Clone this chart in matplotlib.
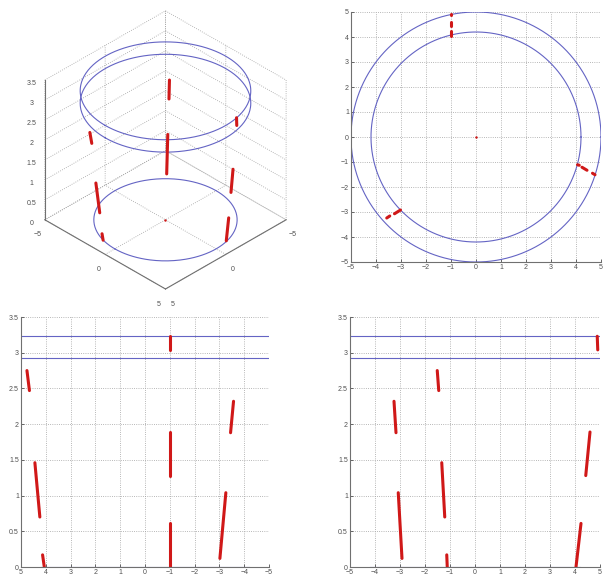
import numpy as np
import matplotlib
matplotlib.use("Agg")
import matplotlib.pyplot as plt

plt.rcParams["font.family"] = ["Liberation Sans", "DejaVu Sans"]
plt.rcParams["font.size"] = 5
plt.rcParams["grid.linestyle"] = ":"
plt.rcParams["grid.color"] = "#a0a0a0"
plt.rcParams["grid.linewidth"] = 0.6

# rings: two big ones up top, smaller one on the floor
outer_r = 5.0
outer_z = [3.23, 2.92]
inner_r = 4.2
inner_z = 0.0

# red sticks, start/end points
stick_x0 = [-1.0, 4.76, -3.57, -1.0, 4.44, -3.26, 4.13, -1.0]
stick_x1 = [-1.0, 4.66, -3.45, -1.0, 4.24, -3.02, 4.06, -1.0]
stick_y0 = [4.89, -1.51, -3.24, 4.60, -1.33, -3.07, -1.13, 4.24]
stick_y1 = [4.91, -1.45, -3.16, 4.43, -1.21, -2.92, -1.11, 4.04]
stick_z0 = [3.23, 2.75, 2.32, 1.89, 1.46, 1.04, 0.17, 0.61]
stick_z1 = [3.04, 2.47, 1.88, 1.28, 0.70, 0.12, 0.00, 0.00]

z_ticks = [0, 0.5, 1, 1.5, 2, 2.5, 3, 3.5]
z_labels = ["0", "0.5", "1", "1.5", "2", "2.5", "3", "3.5"]

blue = "#6464c4"
red = "#d01818"
axcol = "#707070"
lw_red = 2.2
lw_blue = 0.8

t = np.linspace(0, 2 * np.pi, 300)

fig = plt.figure(figsize=(6.03, 5.76), dpi=100)

# ---- 3D view ----
ax3 = fig.add_axes([0.019, 0.484, 0.498, 0.498], projection="3d")
ax3.set_proj_type("ortho")
for z in outer_z:
    ax3.plot(outer_r * np.cos(t), outer_r * np.sin(t), z, color=blue, lw=lw_blue)
ax3.plot(inner_r * np.cos(t), inner_r * np.sin(t), inner_z, color=blue, lw=lw_blue)
for i in range(len(stick_x0)):
    ax3.plot([stick_x0[i], stick_x1[i]], [stick_y0[i], stick_y1[i]],
             [stick_z0[i], stick_z1[i]], color=red, lw=lw_red, solid_capstyle="round")
ax3.plot([0], [0], [0], ".", color=red, ms=1.5)
ax3.set_xlim(-5, 5)
ax3.set_ylim(-5, 5)
ax3.set_zlim(0, 3.5)
ax3.set_xticks([-5, 0, 5])
ax3.set_yticks([-5, 0, 5])
ax3.set_zticks(z_ticks)
ax3.set_zticklabels(z_labels)
ax3.set_box_aspect((1, 1, 1))
ax3.view_init(elev=35, azim=45)
for a in (ax3.xaxis, ax3.yaxis, ax3.zaxis):
    a.set_pane_color((1, 1, 1, 0))
    a.line.set_color(axcol)
    a.line.set_linewidth(0.8)
    a._axinfo["grid"]["linestyle"] = ":"
    a._axinfo["grid"]["color"] = "#a0a0a0"
    a._axinfo["grid"]["linewidth"] = 0.6
    a._axinfo["tick"]["inward_factor"] = 0.0
    a._axinfo["tick"]["outward_factor"] = 0.0
ax3.tick_params(colors="#505050", labelsize=5, pad=-2)


def style2d(ax):
    ax.grid(True)
    for s in ("top", "right"):
        ax.spines[s].set_visible(False)
    for s in ("left", "bottom"):
        ax.spines[s].set_color(axcol)
        ax.spines[s].set_linewidth(0.8)
    ax.tick_params(colors="#505050", labelsize=5, length=2, width=0.6,
                   pad=1.5, direction="in")


# ---- top view ----
ax_t = fig.add_axes([351 / 603, 1 - 262 / 576, 250 / 603, 250 / 576])
ax_t.plot(outer_r * np.cos(t), outer_r * np.sin(t), color=blue, lw=lw_blue)
ax_t.plot(inner_r * np.cos(t), inner_r * np.sin(t), color=blue, lw=lw_blue)
for i in range(len(stick_x0)):
    ax_t.plot([stick_x0[i], stick_x1[i]], [stick_y0[i], stick_y1[i]],
              color=red, lw=lw_red, solid_capstyle="round")
ax_t.plot([0], [0], ".", color=red, ms=1.5)
ax_t.set_xlim(-5, 5)
ax_t.set_ylim(-5, 5)
ax_t.set_xticks(range(-5, 6))
ax_t.set_yticks(range(-5, 6))
style2d(ax_t)

# ---- side view along y (x reversed) ----
ax_l = fig.add_axes([21 / 603, 1 - 567 / 576, 248 / 603, 250 / 576])
for z in outer_z:
    ax_l.plot([-outer_r, outer_r], [z, z], color=blue, lw=lw_blue)
ax_l.plot([-inner_r, inner_r], [inner_z, inner_z], color=blue, lw=lw_blue)
for i in range(len(stick_x0)):
    ax_l.plot([stick_x0[i], stick_x1[i]], [stick_z0[i], stick_z1[i]],
              color=red, lw=lw_red, solid_capstyle="round")
ax_l.set_xlim(5, -5)
ax_l.set_ylim(0, 3.5)
ax_l.set_xticks(range(-5, 6))
ax_l.set_yticks(z_ticks)
ax_l.set_yticklabels(z_labels)
style2d(ax_l)

# ---- side view along x ----
ax_r = fig.add_axes([350 / 603, 1 - 567 / 576, 250 / 603, 250 / 576])
for z in outer_z:
    ax_r.plot([-outer_r, outer_r], [z, z], color=blue, lw=lw_blue)
ax_r.plot([-inner_r, inner_r], [inner_z, inner_z], color=blue, lw=lw_blue)
for i in range(len(stick_x0)):
    ax_r.plot([stick_y0[i], stick_y1[i]], [stick_z0[i], stick_z1[i]],
              color=red, lw=lw_red, solid_capstyle="round")
ax_r.set_xlim(-5, 5)
ax_r.set_ylim(0, 3.5)
ax_r.set_xticks(range(-5, 6))
ax_r.set_yticks(z_ticks)
ax_r.set_yticklabels(z_labels)
style2d(ax_r)

fig.savefig("out.png", dpi=100)
